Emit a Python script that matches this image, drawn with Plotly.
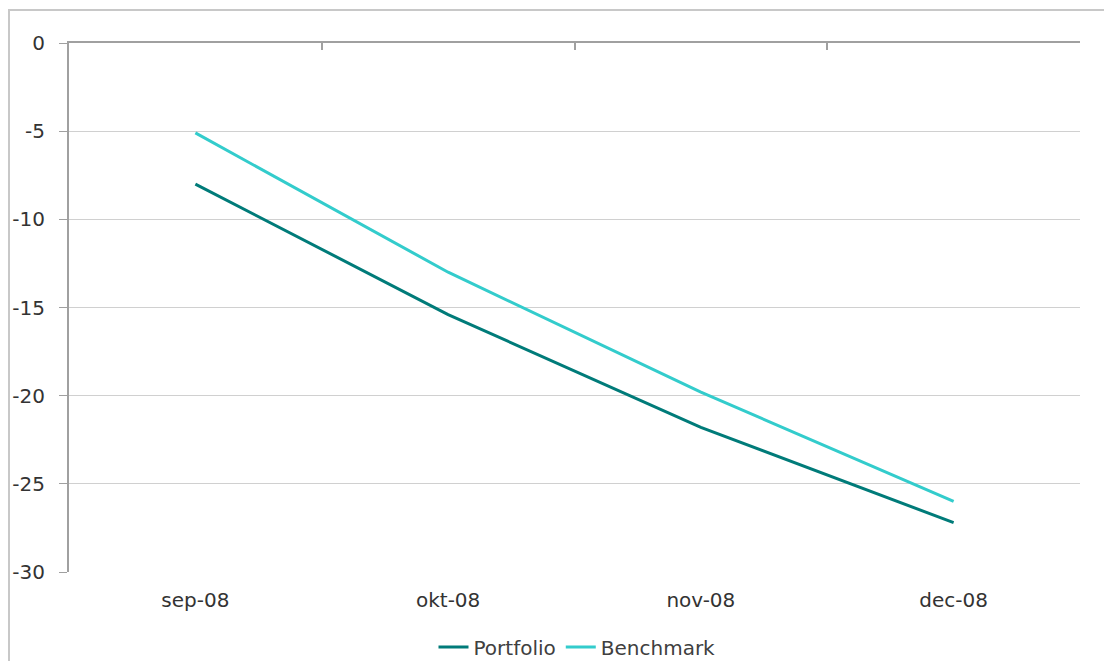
import plotly.graph_objects as go

categories = ["sep-08", "okt-08", "nov-08", "dec-08"]
portfolio = [-8.0, -15.4, -21.8, -27.2]
benchmark = [-5.1, -13.0, -19.8, -26.0]
y_ticks = [0, -5, -10, -15, -20, -25, -30]
y_tick_text = ["0", "-5", "-10", "-15", "-20", "-25", "-30"]

# page body has an 8px default margin: keep figure + margin inside the 1112x661 window
W, H = 1104, 653
ml, mr, mt, mb = 61, 32, 35, 89
pw, ph = W - ml - mr, H - mt - mb

fig = go.Figure()
fig.add_trace(go.Scatter(x=categories, y=portfolio, mode="lines", name="Portfolio",
                         line=dict(color="#007b79", width=3)))
fig.add_trace(go.Scatter(x=categories, y=benchmark, mode="lines", name="Benchmark",
                         line=dict(color="#33cccc", width=3)))
# invisible trace to drive the top axis (category boundary ticks)
fig.add_trace(go.Scatter(x=categories, y=[None] * 4, xaxis="x2", showlegend=False, hoverinfo="skip"))

font = dict(family="DejaVu Sans, Arial, sans-serif", size=20, color="#333333")

fig.update_layout(
    width=W, height=H,
    margin=dict(l=ml, r=mr, t=mt, b=mb, pad=0, autoexpand=False),
    paper_bgcolor="white", plot_bgcolor="white",
    font=font,
    showlegend=True,
    legend=dict(orientation="h", x=(569 - ml) / pw, xanchor="center", y=(564 - 639) / ph,
                yanchor="middle",
                font=dict(family="DejaVu Sans, Arial, sans-serif", size=20, color="#404040"),
                tracegroupgap=0),
    xaxis=dict(type="category", range=[-0.5, 3.5], showgrid=False, showline=False,
               ticks="", zeroline=False, ticklabelstandoff=14, tickfont=font, automargin=False),
    xaxis2=dict(type="category", range=[-0.5, 3.5], overlaying="x", side="top",
                matches="x", showgrid=False, showline=True, linecolor="#a0a0a0", linewidth=2,
                ticks="inside", tickson="boundaries", ticklen=7, tickcolor="#a0a0a0", tickwidth=2,
                showticklabels=False, automargin=False),
    yaxis=dict(range=[-30, 0], tickvals=y_ticks, ticktext=y_tick_text,
               showgrid=True, gridcolor="#d0d0d0", gridwidth=1,
               zeroline=False, showline=True, linecolor="#a0a0a0", linewidth=2,
               ticks="outside", ticklen=8, tickcolor="#a0a0a0", tickwidth=1,
               ticklabelstandoff=10, tickfont=font, automargin=False),
)

# outer chart border (extends past right/bottom edges)
fig.add_shape(type="rect", xref="paper", yref="paper",
              x0=(1 - ml) / pw, x1=1 + (mr + 20) / pw,
              y0=-(mb + 20) / ph, y1=1 + (mt - 2) / ph,
              line=dict(color="#c8c8c8", width=2), layer="below")

fig.write_html("out.html")
